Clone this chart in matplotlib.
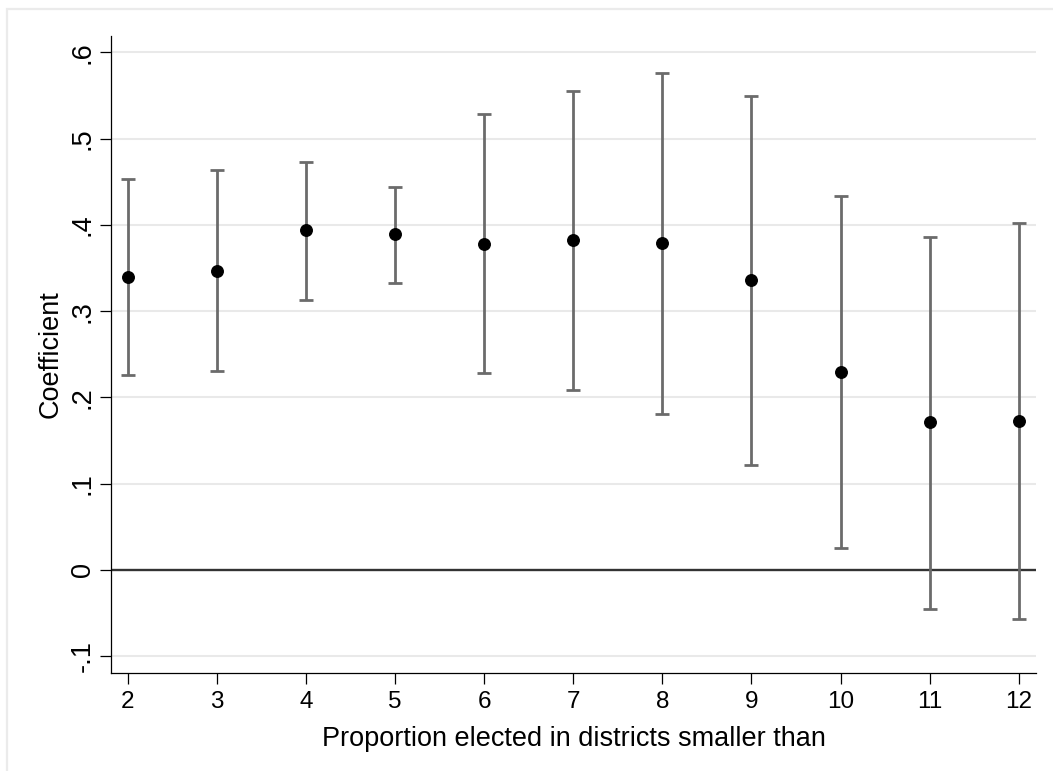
"""
Coefficient plot: proportion elected in districts smaller than k.
Point estimates with confidence intervals, Stata-like styling.
"""
import matplotlib
matplotlib.use("Agg")
import matplotlib.pyplot as plt
from matplotlib.patches import Rectangle

# Data
thresholds = [2, 3, 4, 5, 6, 7, 8, 9, 10, 11, 12]
coef = [0.340, 0.347, 0.394, 0.389, 0.378, 0.382, 0.379, 0.336, 0.230, 0.171, 0.173]
ci_low = [0.226, 0.231, 0.313, 0.333, 0.228, 0.209, 0.181, 0.122, 0.025, -0.045, -0.057]
ci_high = [0.453, 0.464, 0.473, 0.444, 0.529, 0.555, 0.576, 0.549, 0.434, 0.386, 0.402]
y_ticks = [-0.1, 0, 0.1, 0.2, 0.3, 0.4, 0.5, 0.6]
y_tick_labels = ["-.1", "0", ".1", ".2", ".3", ".4", ".5", ".6"]


def plot_coefficients(out_path="out.png"):
    plt.rcParams.update({
        "font.family": ["Liberation Sans", "DejaVu Sans"],
        "font.size": 17.5,
        "axes.linewidth": 0.9,
        "xtick.major.width": 0.9,
        "ytick.major.width": 0.9,
        "xtick.major.size": 8,
        "ytick.major.size": 8,
    })
    COLORS = {
        "bar": "#6b6b6b",
        "grid": "#e9e9e9",
        "zero": "#333333",
        "frame": "#ebebeb",
    }

    W, H = 1053, 771
    fig = plt.figure(figsize=(W / 100, H / 100), dpi=100)
    fig.patch.set_facecolor("white")

    # outer light frame (cut off at right / bottom in the original)
    fig.patches.append(Rectangle((7 / W, -0.2), 1.5, (H - 9) / H + 0.2,
                                 transform=fig.transFigure, fill=False,
                                 edgecolor=COLORS["frame"], linewidth=1.6))

    ax = fig.add_axes([111 / W, (H - 673) / H, (1036 - 111) / W, (673 - 36) / H])

    for yv in y_ticks:
        if yv == 0:
            continue
        ax.axhline(yv, color=COLORS["grid"], linewidth=1.5, zorder=0)
    ax.axhline(0, color=COLORS["zero"], linewidth=1.7, zorder=1)

    lower = [c - lo for c, lo in zip(coef, ci_low)]
    upper = [hi - c for c, hi in zip(coef, ci_high)]
    ax.errorbar(thresholds, coef, yerr=[lower, upper], fmt="none",
                ecolor=COLORS["bar"], elinewidth=2.0, capsize=4.7,
                capthick=2.0, zorder=2)
    ax.plot(thresholds, coef, "o", color="black", markersize=8.3, zorder=3)

    ax.set_xlim(1.813, 12.194)
    ax.set_ylim(-0.1195, 0.619)
    ax.set_xticks(thresholds)
    ax.set_yticks(y_ticks)
    ax.set_yticklabels(y_tick_labels, rotation=90, va="center", fontsize=19.5)
    ax.tick_params(axis="x", pad=5)
    ax.tick_params(axis="y", pad=3)

    ax.spines["top"].set_visible(False)
    ax.spines["right"].set_visible(False)

    fig.text(574 / W, (H - 746) / H, "Proportion elected in districts smaller than",
             ha="center", va="baseline", fontsize=19.5)
    fig.text(51 / W, (H - 354) / H, "Coefficient", rotation=90,
             ha="center", va="center", fontsize=19.5)

    fig.savefig(out_path, dpi=100, facecolor="white")
    plt.close(fig)


if __name__ == "__main__":
    plot_coefficients("out.png")
